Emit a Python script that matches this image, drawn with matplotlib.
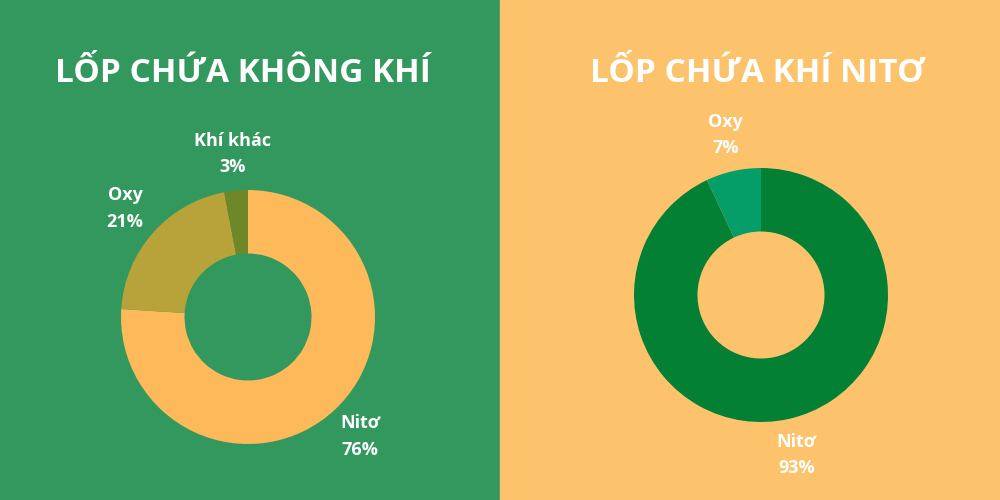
import matplotlib
matplotlib.use("Agg")
import matplotlib.pyplot as plt
from matplotlib.patches import Rectangle

plt.rcParams['font.family'] = ['Open Sans', 'Roboto', 'DejaVu Sans']

# Data
left_title = "LỐP CHỨA KHÔNG KHÍ"
left_categories = ["Nitơ", "Oxy", "Khí khác"]
left_values = [76, 21, 3]
left_colors = ["#FDB95A", "#B8A23A", "#6E8728"]

right_title = "LỐP CHỨA KHÍ NITƠ"
right_categories = ["Nitơ", "Oxy"]
right_values = [93, 7]
right_colors = ["#048034", "#059D68"]

left_bg = "#33985E"
right_bg = "#FCC36C"

fig = plt.figure(figsize=(10, 5), dpi=100)
fig.patches.append(Rectangle((0, 0), 0.5, 1, transform=fig.transFigure, color=left_bg, zorder=-5))
fig.patches.append(Rectangle((0.5, 0), 0.5, 1, transform=fig.transFigure, color=right_bg, zorder=-5))


def donut(rect, values, cats, colors):
    ax = fig.add_axes(rect)
    ax.set_zorder(2)
    ax.patch.set_visible(False)
    labels = [f"{c}\n{v}%" for c, v in zip(cats, values)]
    wedges, texts = ax.pie(values, colors=colors, labels=labels, startangle=90,
                           counterclock=False, labeldistance=1.29, radius=1,
                           wedgeprops=dict(width=0.5, linewidth=0),
                           textprops=dict(color="white", fontsize=13, fontweight="bold",
                                          linespacing=1.6))
    for t in texts:
        t.set_ha("center")
        t.set_va("center")
        t.set_multialignment("center")
    ax.set_xlim(-1, 1)
    ax.set_ylim(-1, 1)
    ax.set_aspect("equal")
    ax.axis("off")
    return ax


donut([0.248 - 0.127, 0.366 - 0.254, 0.254, 0.508], left_values, left_categories, left_colors)
donut([0.761 - 0.127, 0.41 - 0.254, 0.254, 0.508], right_values, right_categories, right_colors)

fig.text(0.243, 1 - 82 / 500, left_title, color="white", fontsize=24, fontweight="bold",
         ha="center", va="baseline", zorder=5)
fig.text(0.757, 1 - 82 / 500, right_title, color="white", fontsize=24, fontweight="bold",
         ha="center", va="baseline", zorder=5)

fig.savefig("out.png", dpi=100)
